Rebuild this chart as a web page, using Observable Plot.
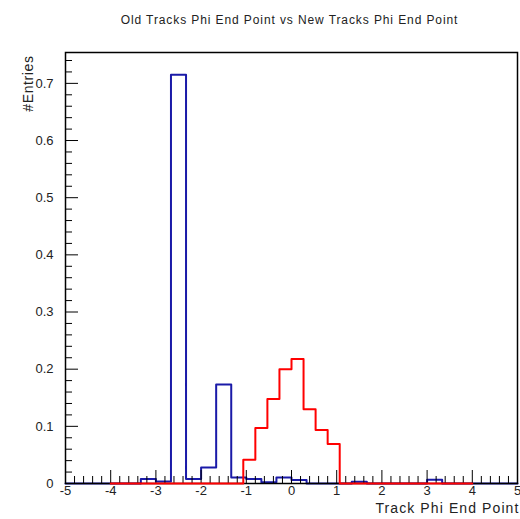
<!DOCTYPE html>
<html>
<head>
<meta charset="utf-8">
<script src="https://cdn.jsdelivr.net/npm/d3@7"></script>
<script src="https://cdn.jsdelivr.net/npm/@observablehq/plot@0.6"></script>
<style>
  body { margin: 0; background: #fff; }
  #chart svg { display: block; }
</style>
</head>
<body>
<div id="chart"></div>
<script>
// Text
const title = "Old Tracks Phi End Point vs New Tracks Phi End Point";
const xTitle = "Track Phi End Point";
const yTitle = "#Entries";

// Blue histogram: 30 bins over [-5, 5]
const blueRange = [-5, 5];
const blueCounts = [
  0, 0, 0, 0, 0,
  0.0077, 0.0035, 0.715, 0.0077, 0.028,
  0.173, 0.0105, 0.0077, 0.002, 0.0105,
  0.006, 0, 0, 0, 0.003,
  0, 0, 0, 0, 0.0065,
  0, 0, 0, 0, 0
];

// Red histogram: 30 bins over [-4, 4]
const redRange = [-4, 4];
const redCounts = [
  0, 0, 0, 0, 0, 0, 0, 0, 0, 0, 0,
  0.0415, 0.097, 0.148, 0.200, 0.218, 0.130, 0.0935, 0.069,
  0, 0, 0, 0, 0, 0, 0, 0, 0, 0, 0
];

// Axis ticks
const xTicks = [-5, -4, -3, -2, -1, 0, 1, 2, 3, 4, 5];
const yTicks = [0, 0.1, 0.2, 0.3, 0.4, 0.5, 0.6, 0.7];
const xMinor = d3.range(-50, 51, 2).filter(v => v % 10 !== 0).map(v => v / 10);
const yMinor = d3.range(0, 76, 2).filter(v => v % 10 !== 0).map(v => v / 100);

// Step outline of a fixed-width histogram, starting and ending on zero
function outline(counts, [lo, hi]) {
  const w = (hi - lo) / counts.length;
  const pts = [{x: lo, y: 0}];
  counts.forEach((c, i) => {
    pts.push({x: lo + i * w, y: c}, {x: lo + (i + 1) * w, y: c});
  });
  pts.push({x: hi, y: 0});
  return pts;
}

const W = 520, H = 519;
const mL = 65, mR = 3, mT = 52, mB = 36;
const fw = W - mL - mR, fh = H - mT - mB;
const font = "'Liberation Sans', Arial, Helvetica, sans-serif";

const chart = Plot.plot({
  width: W,
  height: H,
  marginLeft: mL,
  marginRight: mR,
  marginTop: mT,
  marginBottom: mB,
  style: {fontFamily: font, fontSize: "13px", color: "#222", background: "#fff"},
  x: {domain: [-5, 5]},
  y: {domain: [0, 0.754]},
  marks: [
    Plot.line(outline(blueCounts, blueRange), {x: "x", y: "y", stroke: "#1a1aa8", strokeWidth: 2}),
    Plot.frame({stroke: "#000", strokeWidth: 1.5}),
    Plot.tickX(xMinor, {x: d => d, insetTop: fh - 7, stroke: "#000"}),
    Plot.tickX(xTicks, {x: d => d, insetTop: fh - 13, stroke: "#000"}),
    Plot.tickY(yMinor, {y: d => d, insetRight: fw - 7, stroke: "#000"}),
    Plot.tickY(yTicks, {y: d => d, insetRight: fw - 13, stroke: "#000"}),
    Plot.axisX({ticks: xTicks, tickSize: 0, tickPadding: 2, fontSize: 13, tickFormat: d => String(d), label: null}),
    Plot.axisY({ticks: yTicks, tickSize: 0, tickPadding: 12, fontSize: 13, tickFormat: d => d === 0 ? "0" : d.toFixed(1), label: null}),
    Plot.line(outline(redCounts, redRange), {x: "x", y: "y", stroke: "#ff0000", strokeWidth: 2}),
    Plot.text([title], {frameAnchor: "top", dy: -37, dx: -2, fontSize: 12, fill: "#222", className: "t-title"}),
    Plot.text([xTitle], {frameAnchor: "bottom-right", dy: 29, dx: 2, textAnchor: "end", fontSize: 14, fill: "#222", className: "t-x"}),
    Plot.text([yTitle], {frameAnchor: "top-left", dx: -42, dy: 3, rotate: -90, textAnchor: "end", fontSize: 14, fill: "#222", className: "t-y"})
  ]
});

document.getElementById("chart").appendChild(chart);

// Wide letter spacing of the titles
d3.select(chart).selectAll("g.t-title text").style("letter-spacing", "0.9px");
d3.select(chart).selectAll("g.t-x text").style("letter-spacing", "1.1px");
d3.select(chart).selectAll("g.t-y text").style("letter-spacing", "0.6px");
</script>
</body>
</html>
